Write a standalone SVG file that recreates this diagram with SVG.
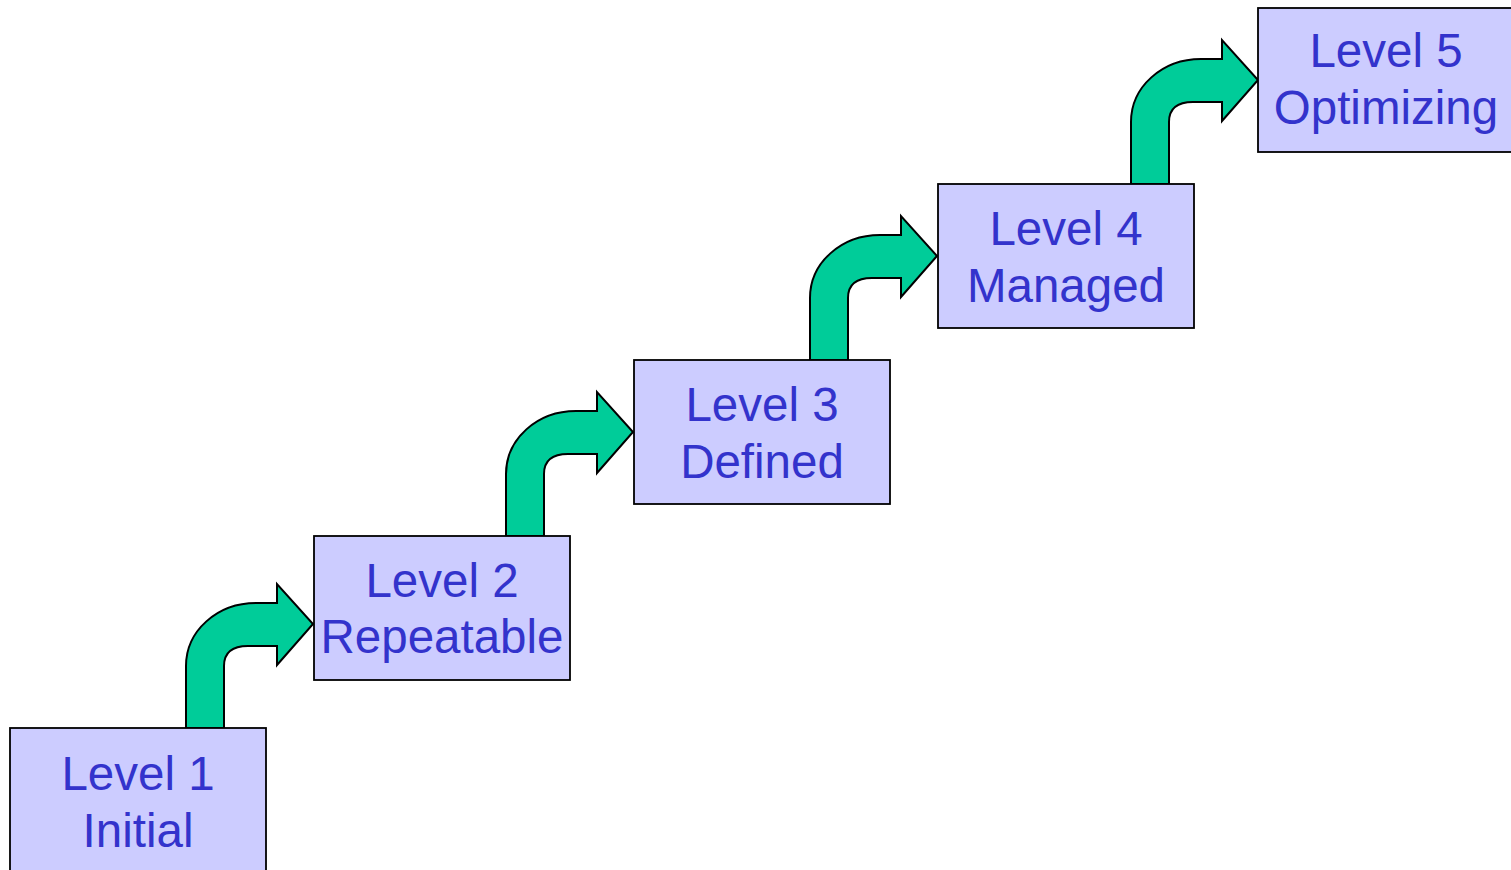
<svg xmlns="http://www.w3.org/2000/svg" width="1511" height="870" viewBox="0 0 1511 870">
  <style>
    .box { fill: #CCCCFF; stroke: #000000; stroke-width: 1.8; }
    .lbl { font-family: "Liberation Sans", Arial, sans-serif; font-size: 47.5px; fill: #3333CC; text-anchor: middle; }
    .step { fill: #00CC99; stroke: #000000; stroke-width: 2; stroke-linejoin: miter; }
  </style>
  <defs>
    <!-- curved "step up" arrow; origin at the left foot of the shaft -->
    <path id="stepArrow" class="step" d="M0,0 L0,-62 C0,-97 31,-125 70,-125 L91,-125 L91,-144 L127,-104 L91,-63 L91,-82 L62,-82 C48,-82 38,-77 38,-62 L38,0 Z"/>
  </defs>
  <rect width="1511" height="870" fill="#FFFFFF"/>

  <g id="connectors">
    <use href="#stepArrow" transform="translate(186,728)"/>
    <use href="#stepArrow" transform="translate(506,536)"/>
    <use href="#stepArrow" transform="translate(810,360)"/>
    <use href="#stepArrow" transform="translate(1131,184)"/>
  </g>

  <g id="level1">
    <rect class="box" x="10" y="728" width="256" height="150"/>
    <text class="lbl" x="138" y="790">Level 1</text>
    <text class="lbl" x="138" y="847">Initial</text>
  </g>
  <g id="level2">
    <rect class="box" x="314" y="536" width="256" height="144"/>
    <text class="lbl" x="442" y="597">Level 2</text>
    <text class="lbl" x="442" y="653">Repeatable</text>
  </g>
  <g id="level3">
    <rect class="box" x="634" y="360" width="256" height="144"/>
    <text class="lbl" x="762" y="421">Level 3</text>
    <text class="lbl" x="762" y="478">Defined</text>
  </g>
  <g id="level4">
    <rect class="box" x="938" y="184" width="256" height="144"/>
    <text class="lbl" x="1066" y="245">Level 4</text>
    <text class="lbl" x="1066" y="302">Managed</text>
  </g>
  <g id="level5">
    <rect class="box" x="1258" y="8" width="256" height="144"/>
    <text class="lbl" x="1386" y="67">Level 5</text>
    <text class="lbl" x="1386" y="124">Optimizing</text>
  </g>
</svg>
